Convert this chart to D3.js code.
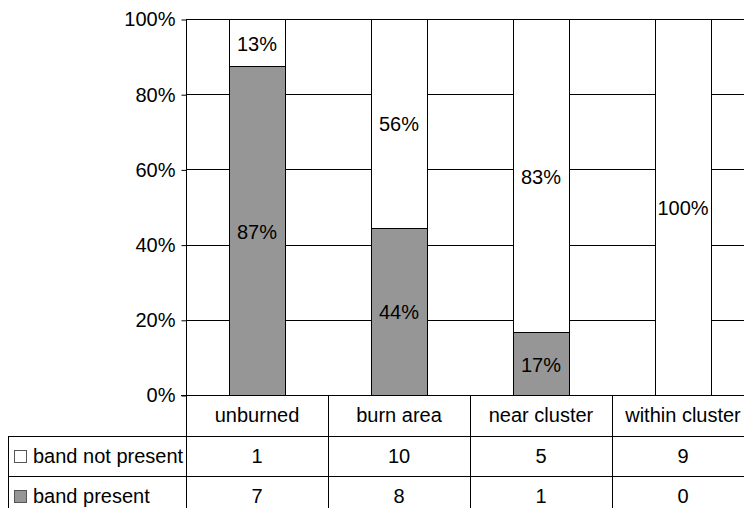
<!DOCTYPE html>
<html>
<head>
<meta charset="utf-8">
<script src="https://cdn.jsdelivr.net/npm/d3@7"></script>
<style>
  html, body { margin: 0; padding: 0; background: #fff; }
  svg { display: block; font-family: "Liberation Sans", Arial, sans-serif; }
</style>
</head>
<body>
<svg id="chart" width="744" height="508"></svg>
<script>
const categories = ["unburned", "burn area", "near cluster", "within cluster"];
const seriesNames = ["band not present", "band present"];
const bandNotPresent = [1, 10, 5, 9];
const bandPresent = [7, 8, 1, 0];
const yTicks = [0, 0.2, 0.4, 0.6, 0.8, 1.0];
const seriesColors = ["#ffffff", "#969696"];

const svg = d3.select("#chart");
const W = 744, H = 508;
const plot = { left: 186, right: 754, top: 19, bottom: 395 };
const tableTop = 395, rowH = 40.5;
const tableLeft = 8;
const fontSize = 20;

const x = d3.scaleBand().domain(categories).range([plot.left, plot.right])
  .paddingInner(0.606).paddingOuter(0.303);
const step = x.step();
const y = d3.scaleLinear().domain([0, 1]).range([plot.bottom, plot.top]);

// gridlines
svg.append("g").selectAll("line").data(yTicks.filter(d => d > 0)).join("line")
  .attr("x1", plot.left).attr("x2", plot.right)
  .attr("y1", d => Math.round(y(d)) + 0.5).attr("y2", d => Math.round(y(d)) + 0.5)
  .attr("stroke", "#000").attr("stroke-width", 1);

// y axis
const yAxis = d3.axisLeft(y).tickValues(yTicks).tickFormat(d3.format(".0%"))
  .tickSize(5).tickSizeOuter(0).tickPadding(6);
const gy = svg.append("g").attr("transform", `translate(${plot.left + 0.5},0.5)`).call(yAxis);
gy.select(".domain").remove();
gy.selectAll(".tick line").attr("stroke", "#000");
gy.selectAll(".tick text").attr("font-size", fontSize).attr("font-family", "Liberation Sans, Arial, sans-serif")
  .attr("fill", "#000");

// stacked data
const rows = categories.map((c, i) => {
  const total = bandNotPresent[i] + bandPresent[i];
  const notPct = Math.round(bandNotPresent[i] / total * 100);
  return { cat: c, present: bandPresent[i] / total, notPresent: bandNotPresent[i] / total,
           notLabel: notPct, presentLabel: 100 - notPct };
});

const gBars = svg.append("g");
rows.forEach(r => {
  const x0 = Math.round(x(r.cat)) + 0.5;
  const w = Math.round(x.bandwidth());
  if (r.present > 0) {
    const yTop = Math.round(y(r.present)) + 0.5;
    gBars.append("rect").attr("x", x0).attr("y", yTop).attr("width", w)
      .attr("height", Math.round(y(0)) + 0.5 - yTop)
      .attr("fill", seriesColors[1]).attr("stroke", "#000");
  }
  if (r.notPresent > 0) {
    const yTop = Math.round(y(1)) + 0.5;
    const yBot = Math.round(y(r.present)) + 0.5;
    gBars.append("rect").attr("x", x0).attr("y", yTop).attr("width", w)
      .attr("height", yBot - yTop)
      .attr("fill", seriesColors[0]).attr("stroke", "#000");
  }
});

// value labels
const gLab = svg.append("g").attr("font-size", fontSize).attr("text-anchor", "middle").attr("fill", "#000");
rows.forEach(r => {
  const cx = x(r.cat) + x.bandwidth() / 2;
  if (r.present > 0) {
    gLab.append("text").attr("x", cx).attr("y", (y(0) + y(r.present)) / 2 + 1)
      .attr("dy", "0.35em").text(r.presentLabel + "%");
  }
  if (r.notPresent > 0) {
    gLab.append("text").attr("x", cx).attr("y", (y(r.present) + y(1)) / 2 + 1)
      .attr("dy", "0.35em").text(r.notLabel + "%");
  }
});

// axis baseline (0%)
svg.append("line").attr("x1", plot.left - 5).attr("x2", plot.right)
  .attr("y1", plot.bottom + 0.5).attr("y2", plot.bottom + 0.5).attr("stroke", "#000");
// left vertical axis line, extends through table
svg.append("line").attr("x1", plot.left + 0.5).attr("x2", plot.left + 0.5)
  .attr("y1", plot.top).attr("y2", H).attr("stroke", "#000");

// data table
const gT = svg.append("g");
const tableRows = [
  { name: seriesNames[0], values: bandNotPresent, color: seriesColors[0] },
  { name: seriesNames[1], values: bandPresent, color: seriesColors[1] }
];
categories.forEach((c, i) => {
  if (i === 0) return;
  const xv = Math.round(plot.left + i * step) + 0.5;
  gT.append("line").attr("x1", xv).attr("x2", xv).attr("y1", tableTop).attr("y2", H)
    .attr("stroke", "#000");
});
[1, 2, 3].forEach(k => {
  const yy = Math.round(tableTop + k * rowH) + 0.5;
  gT.append("line").attr("x1", tableLeft).attr("x2", plot.right).attr("y1", yy).attr("y2", yy)
    .attr("stroke", "#000");
});
gT.append("line").attr("x1", tableLeft + 0.5).attr("x2", tableLeft + 0.5)
  .attr("y1", Math.round(tableTop + rowH)).attr("y2", H).attr("stroke", "#000");

categories.forEach((c, i) => {
  gT.append("text").attr("x", plot.left + i * step + step / 2).attr("y", tableTop + rowH / 2)
    .attr("dy", "0.35em").attr("text-anchor", "middle").attr("font-size", fontSize).attr("fill", "#000")
    .text(c);
});
tableRows.forEach((row, r) => {
  const cy = tableTop + (r + 1) * rowH + rowH / 2;
  gT.append("rect").attr("x", 14.5).attr("y", Math.round(cy - 6) + 0.5).attr("width", 12).attr("height", 12)
    .attr("fill", row.color).attr("stroke", "#555");
  gT.append("text").attr("x", 33).attr("y", cy).attr("dy", "0.35em")
    .attr("font-size", fontSize).attr("fill", "#000").text(row.name);
  row.values.forEach((v, i) => {
    gT.append("text").attr("x", plot.left + i * step + step / 2).attr("y", cy)
      .attr("dy", "0.35em").attr("text-anchor", "middle").attr("font-size", fontSize).attr("fill", "#000")
      .text(v);
  });
});
</script>
</body>
</html>
